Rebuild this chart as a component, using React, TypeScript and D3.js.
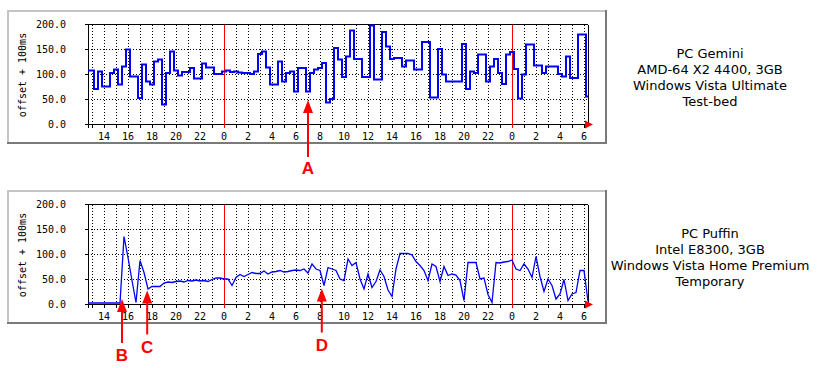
import * as React from 'react';
import * as d3 from 'd3';

// hours relative to midnight of the first day, one sample every 20 minutes
const startHour = -34 / 3;
const endHour = 91 / 3;

const geminiOffset = [
  107, 107, 70, 105, 75, 75, 102, 109, 79, 115, 149, 95, 95, 52,
  119, 85, 79, 125, 129, 39, 102, 145, 107, 97, 104, 104, 112, 91,
  91, 121, 113, 113, 100, 100, 105, 107, 104, 105, 103, 102, 102, 100,
  105, 140, 145, 113, 79, 79, 125, 85, 102, 105, 65, 112, 112, 65,
  102, 109, 112, 122, 43, 50, 152, 129, 94, 135, 187, 130, 130, 94,
  94, 197, 89, 89, 184, 155, 130, 132, 132, 115, 127, 127, 109, 109,
  164, 164, 53, 53, 150, 99, 85, 85, 85, 85, 160, 70, 105, 102,
  139, 139, 85, 115, 130, 102, 80, 139, 144, 110, 51, 99, 159, 159,
  117, 117, 102, 115, 115, 115, 100, 95, 135, 92, 92, 179, 179, 55,
];

const puffinOffset = [
  2, 2, 2, 2, 2, 2, 2, 2, 2, 135, 93, 47, 3, 87,
  63, 30, 35, 35, 35, 42, 44, 43, 45, 46, 44, 47, 46, 48,
  46, 47, 45, 49, 52, 52, 50, 50, 37, 53, 59, 55, 59, 63,
  61, 61, 66, 60, 64, 65, 67, 64, 65, 67, 68, 67, 70, 62,
  80, 70, 67, 37, 73, 70, 67, 50, 47, 90, 77, 83, 50, 30,
  60, 33, 45, 68, 55, 28, 15, 70, 101, 101, 101, 98, 85, 77,
  67, 47, 80, 75, 45, 75, 57, 60, 58, 47, 7, 83, 83, 83,
  50, 52, 19, 3, 83, 82, 84, 85, 88, 70, 67, 80, 70, 53,
  95, 55, 25, 50, 37, 10, 20, 49, 7, 20, 23, 67, 67, 5,
];

const yTicks = [0, 50, 100, 150, 200];
const geminiLines = ['PC Gemini', 'AMD-64 X2 4400, 3GB', 'Windows Vista Ultimate', 'Test-bed'];
const puffinLines = ['PC Puffin', 'Intel E8300, 3GB', 'Windows Vista Home Premium', 'Temporary'];

const geminiMarks = [{ label: 'A', hour: 7, value: 48 }];
const puffinMarks = [
  { label: 'B', hour: -8.5, value: 10 },
  { label: 'C', hour: -6.4, value: 27 },
  { label: 'D', hour: 8.15, value: 31 },
];

const x = d3.scaleLinear().domain([startHour, endHour]).range([88, 588]);
const hours = d3.range(-11, 31);
const mono = 'DejaVu Sans Mono, monospace';
const px = (v) => Math.round(v) + 0.5;

const Panel = ({ top, values, lineWidth, curve, lines, marks, arrowLen, labelGap }) => {
  const y = d3.scaleLinear().domain([0, 200]).range([top + 114, top + 14]);
  const line = d3
    .line()
    .x((d, i) => x(startHour + i / 3))
    .y((d) => y(d))
    .curve(curve);
  const y0 = px(y(0));
  const y1 = px(y(200));
  return (
    <g>
      <rect x={7} y={top} width={599} height={134} fill='white' />
      <g shapeRendering='crispEdges'>
        <line x1={7} x2={606} y1={top + 1} y2={top + 1} stroke='#c4c4c4' strokeWidth={2} />
        <line x1={8} x2={8} y1={top} y2={top + 134} stroke='#c4c4c4' strokeWidth={2} />
        <line x1={7} x2={607} y1={top + 133} y2={top + 133} stroke='#7a7a7a' strokeWidth={2} />
        <line x1={606} x2={606} y1={top} y2={top + 134} stroke='#7a7a7a' strokeWidth={2} />

        {yTicks.slice(1, 4).map((t) => (
          <line key={t} x1={88} x2={588} y1={px(y(t))} y2={px(y(t))} stroke='black' strokeDasharray='1,2' />
        ))}
        {hours.map((h) => (
          <g key={h}>
            {h % 24 !== 0 && (
              <line x1={px(x(h))} x2={px(x(h))} y1={y1} y2={y0} stroke='black' strokeDasharray='1,2' />
            )}
            <line x1={px(x(h))} x2={px(x(h))} y1={y0} y2={y0 + 3} stroke='black' />
          </g>
        ))}
        {yTicks.map((t) => (
          <line key={t} x1={85} x2={88} y1={px(y(t))} y2={px(y(t))} stroke='black' />
        ))}
        <line x1={88} x2={588} y1={y1} y2={y1} stroke='black' />
        <line x1={88.5} x2={88.5} y1={y1} y2={y0 + 3} stroke='black' />
        <line x1={588.5} x2={588.5} y1={y1} y2={y0} stroke='black' />
        <line x1={88} x2={588} y1={y0} y2={y0} stroke='black' />
        {[0, 24].map((h) => (
          <line key={h} x1={px(x(h))} x2={px(x(h))} y1={y1} y2={y0 + 3} stroke='red' />
        ))}
      </g>

      {hours
        .filter((h) => h % 2 === 0)
        .map((h) => (
          <text key={h} x={x(h)} y={y0 + 15} textAnchor='middle' fontFamily={mono} fontSize={10}>
            {((h % 24) + 24) % 24}
          </text>
        ))}
      {yTicks.map((t) => (
        <text key={t} x={66} y={y(t) + 4} textAnchor='end' fontFamily={mono} fontSize={10}>
          {t.toFixed(1)}
        </text>
      ))}
      <text
        transform={`translate(26 ${top + 65}) rotate(-90)`}
        textAnchor='middle'
        fontFamily={mono}
        fontSize={10}>
        offset + 100ms
      </text>
      <path d={`M585,${y0 - 4}L593,${y0}L585,${y0 + 4}Z`} fill='red' />

      <path d={line(values)} fill='none' stroke='#0000ff' strokeWidth={lineWidth} />

      {marks.map((m) => {
        const mx = x(m.hour);
        const tip = y(m.value);
        return (
          <g key={m.label}>
            <line x1={mx} x2={mx} y1={tip + 8} y2={tip + arrowLen} stroke='red' strokeWidth={2} />
            <path d={`M${mx},${tip}L${mx + 5},${tip + 13}L${mx - 5},${tip + 13}Z`} fill='red' />
            <text
              x={mx}
              y={tip + arrowLen + labelGap}
              textAnchor='middle'
              fill='red'
              fontFamily='Liberation Sans, Arial, sans-serif'
              fontWeight='bold'
              fontSize={17}>
              {m.label}
            </text>
          </g>
        );
      })}

      {lines.map((s, i) => (
        <text
          key={s}
          x={710}
          y={top + 48 + i * 16}
          textAnchor='middle'
          fontFamily='DejaVu Sans, Verdana, sans-serif'
          fontSize={13}>
          {s}
        </text>
      ))}
    </g>
  );
};

const App = () => {
  return (
    <svg
      width={818}
      height={368}
      style={{ position: 'absolute', left: 0, top: 0, background: 'white' }}>
      <Panel
        top={10}
        values={geminiOffset}
        lineWidth={2}
        curve={d3.curveStep}
        lines={geminiLines}
        marks={geminiMarks}
        arrowLen={57}
        labelGap={17}
      />
      <Panel
        top={190}
        values={puffinOffset}
        lineWidth={1.3}
        curve={d3.curveLinear}
        lines={puffinLines}
        marks={puffinMarks}
        arrowLen={44}
        labelGap={18}
      />
    </svg>
  );
};

export default App;
